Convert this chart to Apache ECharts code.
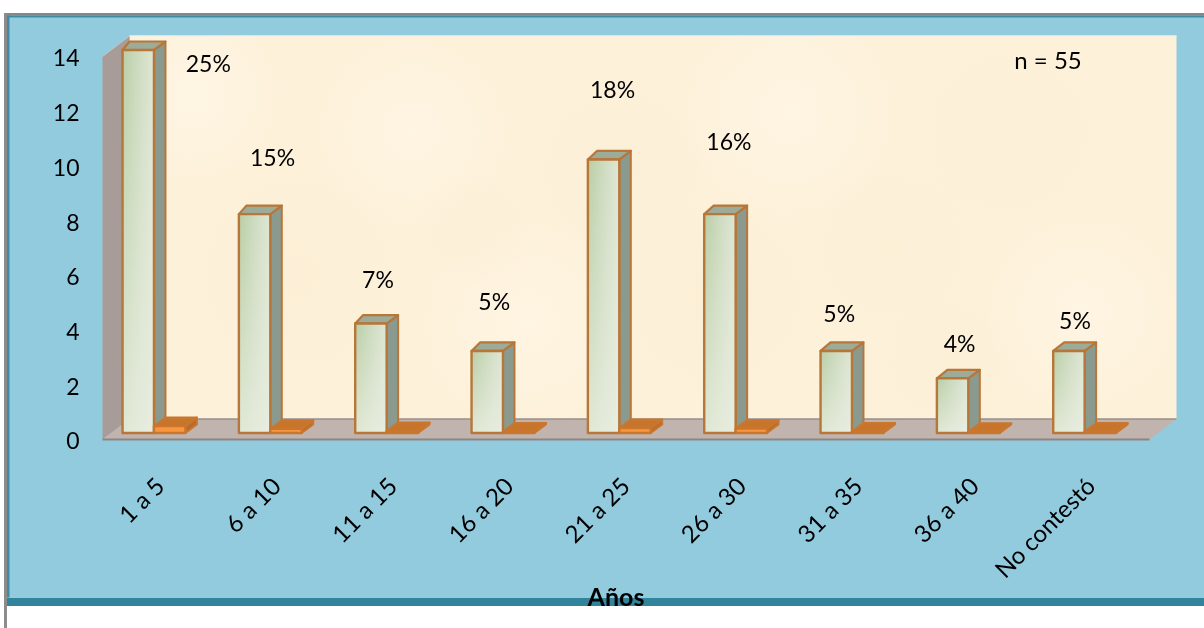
<!DOCTYPE html>
<html>
<head>
<meta charset="utf-8">
<title>Años</title>
<script src="https://cdn.jsdelivr.net/npm/echarts@6/dist/echarts.min.js"></script>
<style>
  html, body { margin: 0; padding: 0; background: #fff; }
  #chart { width: 1204px; height: 628px; }
</style>
</head>
<body>
<div id="chart"></div>
<script>
// Survey results: respondents per range of years, with the share of the total.
const categories = ['1 a 5', '6 a 10', '11 a 15', '16 a 20', '21 a 25', '26 a 30', '31 a 35', '36 a 40', 'No contestó'];
const counts = [14, 8, 4, 3, 10, 8, 3, 2, 3];
const percents = [25, 15, 7, 5, 18, 16, 5, 4, 5];
const yTicks = { min: 0, max: 14, interval: 2 };
const sampleNote = 'n = 55';
const axisTitle = 'Años';

// Hand-placed label offsets from each column's top, in pixels.
const labelOffsets = [[70, 15], [18, -56], [7, -43], [7, -48], [9, -69], [9, -72], [3, -36], [7, -34], [6, -29]];

// Soft blotches of the parchment wall: [fraction across, fraction down, radius, colour].
const parchment = [
  [0.06, 0.15, 90, '255,248,234'], [0.16, 0.62, 110, '251,237,211'], [0.27, 0.25, 100, '255,247,232'],
  [0.38, 0.75, 110, '255,247,231'], [0.47, 0.35, 90, '251,237,212'], [0.56, 0.68, 100, '251,237,211'],
  [0.63, 0.2, 110, '255,247,232'], [0.73, 0.55, 90, '251,238,212'], [0.84, 0.25, 100, '251,238,213'],
  [0.91, 0.72, 100, '255,247,232'], [0.33, 0.5, 60, '251,238,213'], [0.78, 0.85, 70, '251,238,212']
];

// Perspective of the box: columns stand a little behind the front plane.
const plane = { x: 9, y: -6.5 };
const room = { x: 27, y: -20.5 };
const cap = { leftFirst: 7, leftLast: 11, right: 11.5, y: -8.5 };
const barShare = 0.27;
const FONT = 'Lato, "Noto Sans", sans-serif';
const FONT_SIZE = 23;

function poly(points, fill, stroke, lineWidth) {
  return {
    type: 'polygon',
    shape: { points },
    style: { fill, stroke: stroke || 'none', lineWidth: lineWidth || 0, lineJoin: 'round' }
  };
}

// Back wall, side wall and floor follow the plot rectangle.
function renderRoom(params) {
  const c = params.coordSys;
  const l = c.x, r = c.x + c.width, t = c.y, b = c.y + c.height;
  const dx = room.x, dy = room.y;
  const wallW = c.width, wallH = c.height;
  const wallClip = { type: 'rect', shape: { x: l + dx, y: t + dy, width: wallW, height: wallH } };
  const blotches = parchment.map(([fx, fy, rad, rgb]) => ({
    type: 'circle',
    shape: { cx: l + dx + fx * wallW, cy: t + dy + fy * wallH, r: rad },
    style: {
      fill: {
        type: 'radial', x: 0.5, y: 0.5, r: 0.5,
        colorStops: [
          { offset: 0, color: 'rgba(' + rgb + ',0.6)' },
          { offset: 1, color: 'rgba(' + rgb + ',0)' }
        ]
      }
    }
  }));
  return {
    type: 'group',
    children: [
      poly([[l + dx, t + dy], [r + dx, t + dy], [r + dx, b + dy], [l + dx, b + dy]], '#fdf1da'),
      { type: 'group', clipPath: wallClip, children: blotches },
      poly([[l, t], [l + dx, t + dy], [l + dx, b + dy], [l, b]], '#a79c98'),
      poly([[l, b], [l + dx, b + dy], [r + dx, b + dy], [r, b]], '#c1b4ae'),
      { type: 'line', shape: { x1: l + dx, y1: b + dy, x2: r + dx, y2: b + dy }, style: { stroke: '#97908c', lineWidth: 1.5 } },
      { type: 'line', shape: { x1: l, y1: b, x2: r, y2: b }, style: { stroke: '#8b8583', lineWidth: 2 } },
      { type: 'line', shape: { x1: l, y1: t, x2: l + dx, y2: t + dy }, style: { stroke: '#c9c3bf', lineWidth: 1 } },
      { type: 'line', shape: { x1: l + dx, y1: t + dy, x2: r + dx, y2: t + dy }, style: { stroke: '#f4f0e6', lineWidth: 1.5 } }
    ]
  };
}

function columnRenderer(slot, faces) {
  return function (params, api) {
    const idx = api.value(0);
    const top = api.coord([idx, api.value(1)]);
    const base = api.coord([idx, 0]);
    const w = api.size([1, 0])[0] * barShare;
    const x0 = top[0] + plane.x - 1.5 * w + slot * w;
    const x1 = x0 + w;
    const yT = top[1] + plane.y;
    const yB = base[1] + plane.y;
    const capL = slot === 0
      ? cap.leftFirst + (cap.leftLast - cap.leftFirst) * idx / (categories.length - 1)
      : cap.right;
    const children = [
      poly([[x1, yT], [x1 + cap.right, yT + cap.y], [x1 + cap.right, yB + cap.y], [x1, yB]], faces.side, faces.line, 2),
      poly([[x0, yT], [x0 + capL, yT + cap.y], [x1 + cap.right, yT + cap.y], [x1, yT]], faces.top, faces.line, 2.2),
      poly([[x0, yT], [x1, yT], [x1, yB], [x0, yB]], faces.front, 'none', 0)
    ];
    if (faces.wash) {
      children.push(poly([[x0, yT], [x1, yT], [x1, yB], [x0, yB]], faces.wash, 'none', 0));
    }
    children.push(poly([[x0, yT], [x1, yT], [x1, yB], [x0, yB]], 'none', faces.line, 2.4));
    return { type: 'group', children };
  };
}

function renderPercentLabel(params, api) {
  const idx = api.value(0);
  const top = api.coord([idx, api.value(1)]);
  const w = api.size([1, 0])[0] * barShare;
  const off = labelOffsets[idx];
  return {
    type: 'text',
    style: {
      x: top[0] + plane.x - w + off[0],
      y: top[1] + plane.y + off[1],
      text: percents[idx] + '%',
      align: 'center', verticalAlign: 'middle',
      fontFamily: FONT, fontSize: FONT_SIZE, fill: '#000'
    }
  };
}

const greenFaces = {
  front: { type: 'linear', x: 0, y: 0, x2: 1, y2: 0, colorStops: [
    { offset: 0, color: '#b9cea5' }, { offset: 0.55, color: '#cfdcc2' }, { offset: 1, color: '#dee6d4' }
  ] },
  wash: { type: 'linear', x: 0, y: 0, x2: 0, y2: 1, colorStops: [
    { offset: 0, color: 'rgba(236,240,228,0)' }, { offset: 1, color: 'rgba(236,240,228,0.75)' }
  ] },
  side: '#8b9a8e',
  top: '#9cac98',
  line: '#b87638'
};
const orangeFaces = {
  front: '#f9963e',
  side: '#b96b2c',
  top: '#c8752c',
  line: '#c9772f'
};

const chart = echarts.init(document.getElementById('chart'), null, { renderer: 'canvas' });
chart.setOption({
  animation: false,
  backgroundColor: '#ffffff',
  grid: { left: 102.5, top: 56.5, width: 1047, height: 383 },
  graphic: [
    { type: 'rect', z: -2, shape: { x: 4, y: 13, width: 1200, height: 593 }, style: { fill: '#93cbde' } },
    { type: 'rect', z: -1, shape: { x: 4, y: 13, width: 3, height: 615 }, style: { fill: '#8c8c8c' } },
    { type: 'rect', z: -1, shape: { x: 7, y: 13, width: 1197, height: 2.5 }, style: { fill: '#808a8e' } },
    { type: 'rect', z: -1, shape: { x: 7, y: 15.5, width: 1197, height: 2 }, style: { fill: '#3f8ba3' } },
    { type: 'rect', z: -1, shape: { x: 7, y: 15.5, width: 2.5, height: 582 }, style: { fill: '#3f8ba3' } },
    { type: 'rect', z: -1, shape: { x: 7, y: 598, width: 1197, height: 8 }, style: { fill: '#31849b' } },
    { type: 'text', z: 10, style: { x: 1048, y: 61, text: sampleNote, align: 'center', verticalAlign: 'middle', fontFamily: FONT, fontSize: 24, fill: '#000' } }
  ],
  xAxis: {
    type: 'category',
    data: categories,
    axisLine: { show: false },
    axisTick: { show: false },
    axisLabel: { rotate: 45, interval: 0, margin: 43, color: '#000', fontFamily: FONT, fontSize: 24 },
    name: axisTitle,
    nameLocation: 'middle',
    nameMoveOverlap: false,
    nameGap: 146,
    nameTextStyle: { color: '#000', fontFamily: FONT, fontSize: 25, fontWeight: 'bold', padding: [0, 20, 0, 0] }
  },
  yAxis: {
    type: 'value',
    min: yTicks.min,
    max: yTicks.max,
    interval: yTicks.interval,
    axisLine: { show: false },
    axisTick: { show: false },
    splitLine: { show: false },
    axisLabel: { margin: 23, color: '#000', fontFamily: FONT, fontSize: FONT_SIZE, verticalAlign: 'top', lineHeight: 5 }
  },
  series: [
    { type: 'custom', z: 1, silent: true, data: [[0, 0]], encode: { x: 0, y: 1 }, renderItem: renderRoom },
    {
      type: 'custom', z: 2, silent: true,
      data: counts.map((v, i) => [i, v]),
      encode: { x: 0, y: 1 },
      renderItem: columnRenderer(0, greenFaces)
    },
    {
      type: 'custom', z: 3, silent: true,
      data: percents.map((p, i) => [i, p / 100]),
      encode: { x: 0, y: 1 },
      renderItem: columnRenderer(1, orangeFaces)
    },
    {
      type: 'custom', z: 4, silent: true,
      data: counts.map((v, i) => [i, v]),
      encode: { x: 0, y: 1 },
      renderItem: renderPercentLabel
    }
  ]
});
</script>
</body>
</html>
